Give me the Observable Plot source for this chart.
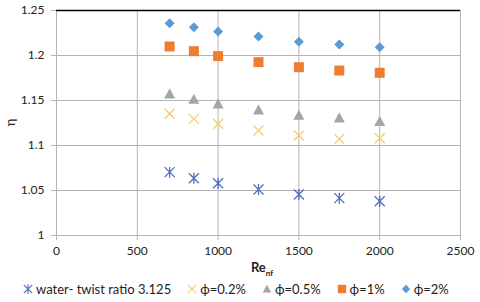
<!DOCTYPE html>
<html><head><meta charset="utf-8">
<script src="https://cdn.jsdelivr.net/npm/d3@7"></script>
<script src="https://cdn.jsdelivr.net/npm/@observablehq/plot@0.6"></script>
<style>
body{margin:0;background:#fff;font-family:Lato,"Open Sans",sans-serif;color:#222;}
#chart{width:480px;}
#legend{display:flex;justify-content:flex-start;align-items:center;gap:15px;height:24px;font-size:13px;width:480px;padding-left:22px;box-sizing:border-box;}
#legend .item{display:flex;align-items:center;gap:2px;white-space:nowrap;}
#legend svg{display:block;}
</style></head><body><div id="chart"></div><div id="legend"></div><script>
const reynolds = [700, 850, 1000, 1250, 1500, 1750, 2000];
const water = [1.0704, 1.0637, 1.0581, 1.0511, 1.0456, 1.0415, 1.0381];
const phi02 = [1.1352, 1.1296, 1.1241, 1.1167, 1.1111, 1.1074, 1.1081];
const phi05 = [1.1574, 1.1515, 1.1463, 1.1397, 1.1337, 1.1308, 1.1270];
const phi1 = [1.2100, 1.2048, 1.1993, 1.1926, 1.1870, 1.1833, 1.1808];
const phi2 = [1.2359, 1.2315, 1.2267, 1.2211, 1.2152, 1.2122, 1.2092];
const seriesNames = ["water- twist ratio 3.125", "ϕ=0.2%", "ϕ=0.5%", "ϕ=1%", "ϕ=2%"];
const xTicks = [0, 500, 1000, 1500, 2000, 2500];
const yTicks = [1, 1.05, 1.1, 1.15, 1.2, 1.25];
const yTickLabels = ["1", "1.05", "1.1", "1.15", "1.2", "1.25"];

// Excel-like marker shapes
const rad = s => Math.sqrt(s / Math.PI);
const symAsterisk = {draw(c, s){const r = rad(s); c.moveTo(-r,-r); c.lineTo(r,r); c.moveTo(r,-r); c.lineTo(-r,r); c.moveTo(0,-r*1.1); c.lineTo(0,r*1.1);}};
const symTimes = {draw(c, s){const r = rad(s); c.moveTo(-r,-r); c.lineTo(r,r); c.moveTo(r,-r); c.lineTo(-r,r);}};
const symTriangle = {draw(c, s){const r = rad(s); c.moveTo(0,-r); c.lineTo(r,r*0.85); c.lineTo(-r,r*0.85); c.closePath();}};
const symSquare = {draw(c, s){const r = rad(s); c.rect(-r,-r,2*r,2*r);}};
const symDiamond = {draw(c, s){const r = rad(s); c.moveTo(0,-r); c.lineTo(r,0); c.lineTo(0,r); c.lineTo(-r,0); c.closePath();}};

const series = [
  {name: seriesNames[0], values: water, symbol: symAsterisk, color: "#4f6fc0", filled: false, r: 5},
  {name: seriesNames[1], values: phi02, symbol: symTimes, color: "#f4cd6c", filled: false, r: 5},
  {name: seriesNames[2], values: phi05, symbol: symTriangle, color: "#a5a5a5", filled: true, r: 5.5},
  {name: seriesNames[3], values: phi1, symbol: symSquare, color: "#ed7d31", filled: true, r: 5},
  {name: seriesNames[4], values: phi2, symbol: symDiamond, color: "#5b9bd5", filled: true, r: 5}
];

const W = 480, H = 277, ml = 56, mr = 20, mt = 10, mb = 42;
const gridColor = "#b4b4b4";

const marks = [
  Plot.ruleX(xTicks, {stroke: gridColor}),
  Plot.ruleY(yTicks, {stroke: gridColor}),
  Plot.ruleY([d3.max(yTicks)], {stroke: "#000", strokeWidth: 1.3}),
  Plot.axisX({ticks: xTicks, tickSize: 5, tickPadding: 6, stroke: gridColor, tickFormat: d => String(d), fontSize: 12, label: null}),
  Plot.axisY({ticks: yTicks, tickSize: 5, tickPadding: 7, stroke: gridColor, tickFormat: d => yTickLabels[yTicks.indexOf(d)], fontSize: 12, label: null})
];
for (const s of series) {
  const rows = reynolds.map((x, i) => ({x, y: s.values[i]}));
  marks.push(Plot.dot(rows, s.filled
    ? {x: "x", y: "y", symbol: s.symbol, r: s.r, fill: s.color, stroke: "none"}
    : {x: "x", y: "y", symbol: s.symbol, r: s.r, fill: "none", stroke: s.color, strokeWidth: 1.3}));
}

const chart = Plot.plot({
  width: W, height: H,
  marginLeft: ml, marginRight: mr, marginTop: mt, marginBottom: mb,
  style: {fontFamily: "Lato, sans-serif", fontSize: "12px", color: "#222", background: "#fff"},
  x: {domain: [0, 2500]},
  y: {domain: [1, 1.25]},
  marks
});
document.getElementById("chart").appendChild(chart);

const svg = d3.select(chart);
const cx = (ml + W - mr) / 2;
const xl = svg.append("text").attr("x", cx + 4).attr("y", 272).attr("text-anchor", "middle")
  .attr("font-weight", "bold").attr("font-size", 13).attr("fill", "#222");
xl.append("tspan").text("Re");
xl.append("tspan").attr("dy", 4).attr("font-size", 8).text("nf");
svg.append("text").attr("transform", `translate(15,${(mt + H - mb) / 2}) rotate(-90)`)
  .attr("text-anchor", "middle").attr("font-size", 13).attr("fill", "#222").text("η");

// legend
const legend = d3.select("#legend");
for (const s of series) {
  const item = legend.append("div").attr("class", "item");
  const sv = item.append("svg").attr("width", 12).attr("height", 12);
  const p = d3.path();
  s.symbol.draw(p, Math.PI * 4.2 * 4.2);
  sv.append("path").attr("transform", "translate(6,6)").attr("d", p.toString())
    .attr("fill", s.filled ? s.color : "none").attr("stroke", s.filled ? "none" : s.color).attr("stroke-width", 1.2);
  item.append("span").text(s.name);
}
</script></body></html>
